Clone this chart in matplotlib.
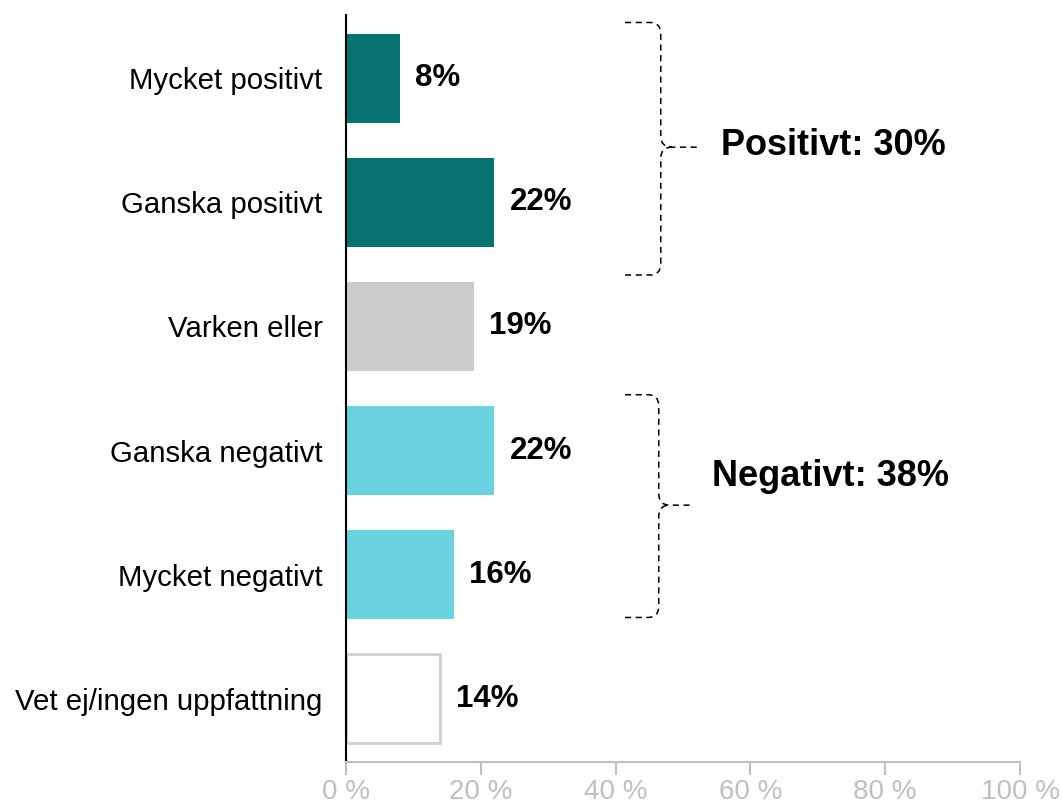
#!/usr/bin/env python3
# -*- coding: utf-8 -*-
import matplotlib
matplotlib.use("Agg")
import matplotlib.pyplot as plt
from matplotlib.path import Path
from matplotlib.patches import PathPatch
from matplotlib.ticker import FixedLocator, FuncFormatter

# data
categories = ['Mycket positivt', 'Ganska positivt', 'Varken eller',
              'Ganska negativt', 'Mycket negativt', 'Vet ej/ingen uppfattning']
values = [8, 22, 19, 22, 16, 14]
group_labels = ['Positivt: 30%', 'Negativt: 38%']
xticks = [0, 20, 40, 60, 80, 100]

TEAL = '#077270'
GREY = '#CCCCCC'
CYAN = '#6BD3DF'
bar_colors = [TEAL, TEAL, GREY, CYAN, CYAN, 'white']
edge_colors = [TEAL, TEAL, GREY, CYAN, CYAN, '#D0D0D0']

plt.rcParams['font.family'] = ['Liberation Sans', 'DejaVu Sans']

fig = plt.figure(figsize=(10.62, 8.08), dpi=100)
ax = fig.add_axes([0.3258, 0.0569, 0.6347, 0.9245])

y = list(range(len(categories)))
ax.barh(y, values, height=0.72, color=bar_colors, edgecolor=edge_colors,
        linewidth=[0, 0, 0, 0, 0, 2])

for yi, v in zip(y, values):
    ax.annotate(f'{v}%', xy=(v, yi), xytext=(11, 0), textcoords='offset points',
                ha='left', va='center', fontsize=22.5, fontweight='bold')

ax.set_xlim(0, 100)
ax.set_ylim(5.51, -0.51)
ax.set_yticks(y)
ax.set_yticklabels(categories, fontsize=21.2)
ax.tick_params(axis='y', length=0, pad=17)

ax.xaxis.set_major_locator(FixedLocator(xticks))
ax.xaxis.set_major_formatter(FuncFormatter(lambda v, p: f'{v:.0f} %'))
ax.tick_params(axis='x', colors='#C0C0C0', length=9, width=1.5, pad=3)
for lbl in ax.get_xticklabels():
    lbl.set_fontsize(20)
    lbl.set_color('#BFBFBF')

for s in ['top', 'right']:
    ax.spines[s].set_visible(False)
ax.spines['bottom'].set_color('#C0C0C0')
ax.spines['bottom'].set_linewidth(1.5)
ax.spines['left'].set_color('black')
ax.spines['left'].set_linewidth(1.5)


def brace(ax, left, vx, tip, top, mid, bottom, rx=1.6, ry=0.09):
    verts = [(left, top), (vx - rx, top), (vx, top), (vx, top + ry),
             (vx, mid - ry), (vx, mid), (vx + rx, mid), (tip, mid),
             (left, bottom), (vx - rx, bottom), (vx, bottom), (vx, bottom - ry),
             (vx, mid + ry), (vx, mid), (vx + rx, mid)]
    codes = [Path.MOVETO, Path.LINETO, Path.CURVE3, Path.CURVE3,
             Path.LINETO, Path.CURVE3, Path.CURVE3, Path.LINETO,
             Path.MOVETO, Path.LINETO, Path.CURVE3, Path.CURVE3,
             Path.LINETO, Path.CURVE3, Path.CURVE3]
    patch = PathPatch(Path(verts, codes), fill=False, edgecolor='black',
                      linewidth=1.1, linestyle=(0, (4, 3)), clip_on=False)
    ax.add_patch(patch)


brace(ax, 41.4, 46.7, 52.2, -0.45, 0.555, 1.585)
brace(ax, 41.4, 46.4, 51.3, 2.55, 3.44, 4.345)

ax.text(55.6, 0.54, group_labels[0], ha='left', va='center',
        fontsize=26, fontweight='bold')
ax.text(54.3, 3.21, group_labels[1], ha='left', va='center',
        fontsize=26, fontweight='bold')

fig.savefig('out.png', dpi=100)
